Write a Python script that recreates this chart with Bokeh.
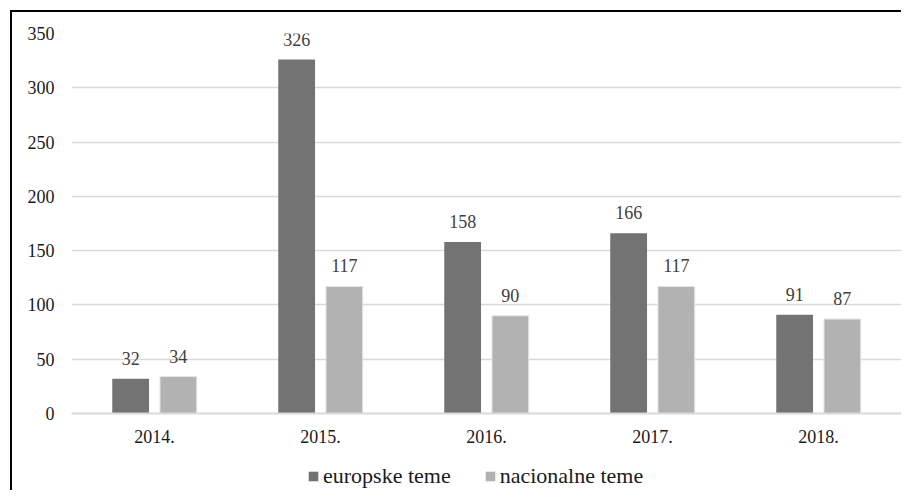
from bokeh.plotting import figure
from bokeh.layouts import column
from bokeh.models import ColumnDataSource, FactorRange, Range1d, LabelSet, Legend, LegendItem
from bokeh.transform import dodge
from bokeh.embed import file_html
from bokeh.resources import INLINE

years = ["2014.", "2015.", "2016.", "2017.", "2018."]
europske = [32, 326, 158, 166, 91]
nacionalne = [34, 117, 90, 117, 87]
y_ticks = [0, 50, 100, 150, 200, 250, 300, 350]
series_names = ["europske teme", "nacionalne teme"]

FONT = "Liberation Serif"
DARK = "#737373"
LIGHT = "#b2b2b2"

src = ColumnDataSource(dict(
    year=years,
    eu=europske,
    nac=nacionalne,
    eu_lab=[str(v) for v in europske],
    nac_lab=[str(v) for v in nacionalne],
))

p = figure(
    x_range=FactorRange(*years, range_padding=0),
    y_range=Range1d(0, 350),
    width=901, height=450,
    output_backend="svg", toolbar_location=None,
    min_border_left=71, min_border_right=0, min_border_top=33, min_border_bottom=37,
)
p.styles = {"box-shadow": "inset 10px 10px 0 0 #ffffff, inset 12px 12px 0 0 #000000"}
p.outline_line_color = None
p.background_fill_color = "white"
p.border_fill_alpha = 0

off = 0.1437
w = 0.2216
r1 = p.vbar(x=dodge("year", -off, range=p.x_range), top="eu", width=w, source=src,
            fill_color=DARK, line_color=None)
r2 = p.vbar(x=dodge("year", off, range=p.x_range), top="nac", width=w, source=src,
            fill_color=LIGHT, line_color="#e6e6e6", line_width=1)

for col, lab, sign in (("eu", "eu_lab", -1), ("nac", "nac_lab", 1)):
    ls = LabelSet(x=dodge("year", sign * off, range=p.x_range), y=col, text=lab, source=src,
                  text_align="center", text_baseline="alphabetic", y_offset=14,
                  text_font=FONT, text_font_size="18px", text_color="#404040")
    p.add_layout(ls)

p.xgrid.grid_line_color = None
p.ygrid.grid_line_color = "#d9d9d9"
p.ygrid.grid_line_width = 1.5
p.yaxis.ticker = y_ticks

for ax in (p.xaxis, p.yaxis):
    ax.axis_line_color = None
    ax.major_tick_line_color = None
    ax.minor_tick_line_color = None
    ax.major_label_text_font = FONT
    ax.major_label_text_font_size = "18px"
    ax.major_label_text_color = "#1a1a1a"
p.xaxis.axis_line_color = "#d9d9d9"
p.xaxis.axis_line_width = 2
p.xaxis.major_label_standoff = 10
p.yaxis.major_label_standoff = 11

# legend strip (its renderers are hidden copies of the series; only the legend shows)
lg = figure(width=901, height=40, output_backend="svg", toolbar_location=None,
            x_range=FactorRange(*years), y_range=Range1d(0, 350),
            x_axis_type=None, y_axis_type=None,
            min_border_left=0, min_border_right=0, min_border_top=0, min_border_bottom=0)
lg.styles = {"box-shadow": "inset 10px 0 0 0 #ffffff, inset 12px 0 0 0 #000000"}
lg.outline_line_color = None
lg.background_fill_alpha = 0
lg.border_fill_alpha = 0
lg.grid.visible = False
d1 = lg.vbar(x="year", top="eu", width=w, source=src, fill_color=DARK, line_color=None, visible=False)
d2 = lg.vbar(x="year", top="nac", width=w, source=src, fill_color=LIGHT, line_color=None, visible=False)

legend = Legend(items=[LegendItem(label=series_names[0], renderers=[d1]),
                       LegendItem(label=series_names[1], renderers=[d2])],
                orientation="horizontal", location=(236, 1),
                glyph_width=12, glyph_height=12, label_standoff=4, spacing=33,
                padding=0, margin=0, border_line_color=None, background_fill_alpha=0,
                inactive_fill_alpha=0,
                label_text_font=FONT, label_text_font_size="22px", label_text_color="#1a1a1a")
lg.add_layout(legend, "center")

layout = column(p, lg, spacing=0)
open("out.html", "w").write(file_html(layout, INLINE))
